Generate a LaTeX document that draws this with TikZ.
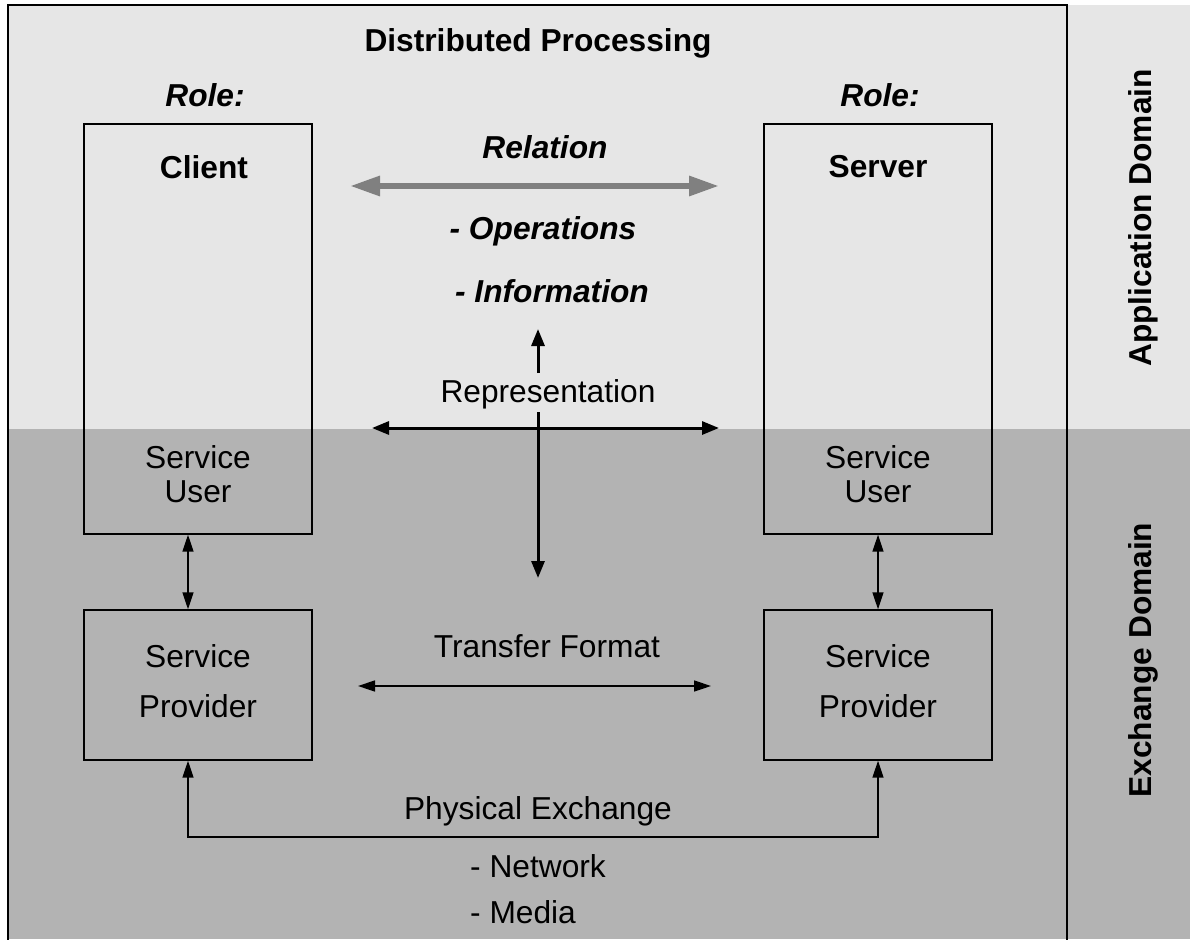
\documentclass[tikz,border=0pt]{standalone}
\usepackage{fontspec}
\setmainfont{Liberation Sans}
\usetikzlibrary{arrows.meta}
\definecolor{lightbg}{HTML}{E6E6E6}
\definecolor{darkbg}{HTML}{B3B3B3}
\definecolor{relgray}{HTML}{808080}
\tikzset{
  lbl/.style={font=\fontsize{31.7}{38}\selectfont, inner sep=0pt, anchor=center},
  blbl/.style={lbl, font=\fontsize{31.7}{38}\selectfont\bfseries},
  bilbl/.style={lbl, font=\fontsize{31.7}{38}\selectfont\bfseries\itshape},
  twoline/.style={lbl, align=center, font=\fontsize{31.7}{50}\selectfont},
  twolinetight/.style={lbl, align=center, font=\fontsize{31.7}{34}\selectfont},
  boxnode/.style={draw=black, line width=1.4pt, inner sep=0pt},
  thinarrow/.style={line width=1.5pt, {Triangle[length=17pt,width=11pt]}-{Triangle[length=17pt,width=11pt]}},
  thickarrow/.style={line width=3pt, -{Triangle[length=17pt,width=13pt]}},
  relarrow/.style={relgray, line width=6pt, {Triangle[length=30pt,width=19pt]}-{Triangle[length=30pt,width=19pt]}}
}
\begin{document}
\begin{tikzpicture}[x=1pt,y=-1pt]
\useasboundingbox (0,0) rectangle (1190,939);
\fill[white] (0,0) rectangle (1190,939);
\fill[lightbg] (8,5) rectangle (1190,429);
\fill[darkbg] (8,429) rectangle (1190,939);
\draw[line width=2pt] (8,945) -- (8,5) -- (1067,5) -- (1067,945);

% side labels
\node[blbl, rotate=90] (appdom) at (1143,218) {Application Domain};
\node[blbl, rotate=90] (exdom) at (1143,660) {Exchange Domain};

% title
\node[blbl] (title) at (538,43) {Distributed Processing};
\node[bilbl] (roleL) at (205,95) {Role:};
\node[bilbl] (roleR) at (880,95) {Role:};

% boxes
\node[boxnode, minimum width=228pt, minimum height=410pt] (client) at (198,329) {};
\node[boxnode, minimum width=228pt, minimum height=410pt] (server) at (878,329) {};
\node[boxnode, minimum width=228pt, minimum height=150pt] (provL) at (198,685) {};
\node[boxnode, minimum width=228pt, minimum height=150pt] (provR) at (878,685) {};

\node[blbl] (clientlbl) at (204,167) {Client};
\node[blbl] (serverlbl) at (878,167) {Server};
\node[twolinetight] (userL) at (198,474) {Service\\User};
\node[twolinetight] (userR) at (878,474) {Service\\User};
\node[twoline] (provLlbl) at (198,681) {Service\\Provider};
\node[twoline] (provRlbl) at (878,681) {Service\\Provider};

% middle texts
\node[bilbl] (relation) at (545,147) {Relation};
\node[bilbl] (ops) at (543,231) {- Operations};
\node[bilbl] (info) at (552,291) {- Information};
\node[lbl] (repr) at (548,394) {Representation};
\node[lbl] (transfer) at (547,646) {Transfer Format};
\node[lbl] (phys) at (538,811) {Physical Exchange};
\node[lbl, anchor=west] (network) at (470,866) {- Network};
\node[lbl, anchor=west] (media) at (470,912) {- Media};

% coordinates for arrows
\coordinate (relL) at (350,186);
\coordinate (relR) at (719,186);
\coordinate (repL) at (372,428);
\coordinate (repR) at (719,428);
\coordinate (vUpS) at (538,373);
\coordinate (vUpE) at (538,329);
\coordinate (vDnS) at (538,412);
\coordinate (vDnE) at (538,578);
\coordinate (trL) at (358,686);
\coordinate (trR) at (711,686);

\draw[relarrow] (relL) -- (relR);
\draw[line width=3pt, {Triangle[length=17pt,width=13pt]}-{Triangle[length=17pt,width=13pt]}] (repL) -- (repR);
\draw[thickarrow] (vUpS) -- (vUpE);
\draw[thickarrow] (vDnS) -- (vDnE);
\draw[thinarrow] (trL) -- (trR);

\draw[thinarrow] (client.south -| 188,0) -- (provL.north -| 188,0);
\draw[thinarrow] (server.south) -- (provR.north);

\coordinate (physL) at (188,837);
\coordinate (physR) at (878,837);
\draw[line width=1.5pt, {Triangle[length=17pt,width=11pt]}-{Triangle[length=17pt,width=11pt]}] (provL.south -| physL) -- (physL) -- (physR) -- (provR.south);
\end{tikzpicture}
\end{document}
